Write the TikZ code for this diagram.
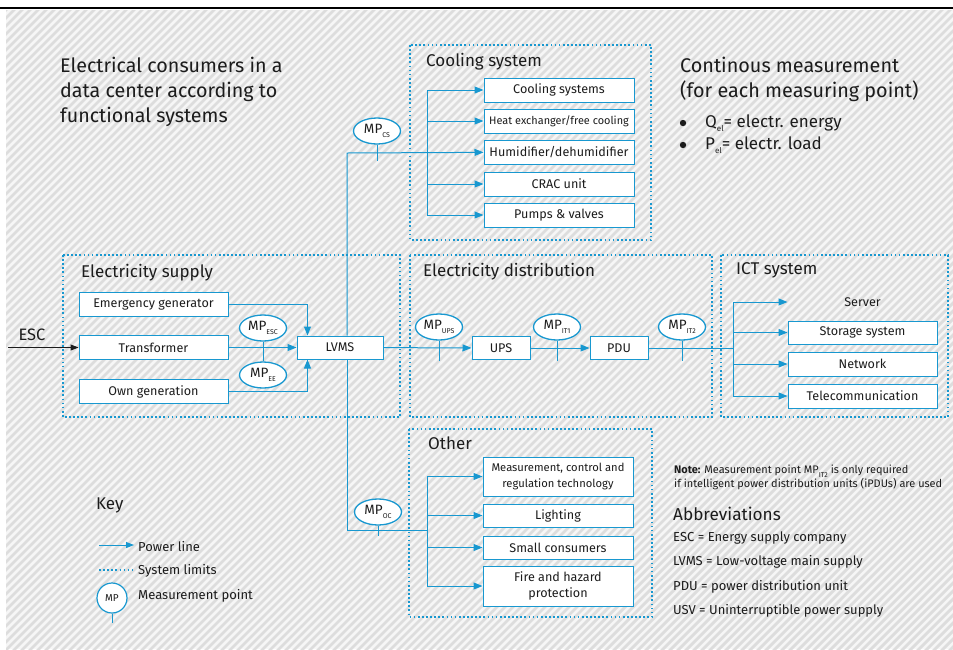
\documentclass[tikz,border=0pt]{standalone}
\usepackage{fontspec}
\setmainfont{Fira Sans}
\definecolor{lineblue}{RGB}{24, 152, 208}
\definecolor{hatchgrey}{RGB}{221, 221, 221}
\definecolor{paper}{RGB}{246, 246, 246}
\definecolor{inkgrey}{RGB}{28, 28, 28}
\usetikzlibrary{shapes.geometric, arrows.meta, positioning, calc}
\newcommand{\mplabel}[1]{MP\raisebox{-3.5pt}{\fontsize{7}{8}\selectfont #1}}
\tikzset{
  unitbox/.style={rectangle, draw=lineblue, fill=white, line width=1pt, minimum width=150pt, minimum height=24pt, inner sep=1pt, align=center, text=inkgrey, font=\fontsize{12.6}{15}\selectfont},
  sysframe/.style={color=lineblue, line width=1.7pt, dash pattern=on 1.7pt off 2.4pt},
  mpnode/.style={ellipse, draw=lineblue, fill=white, line width=1.3pt, minimum width=47pt, minimum height=26pt, inner sep=0pt, text=inkgrey, font=\fontsize{13.5}{14}\selectfont},
  powerline/.style={draw=lineblue, line width=1pt, -{Triangle[length=9pt, width=7pt]}},
  plainline/.style={draw=lineblue, line width=1pt},
  grouptitle/.style={anchor=west, inner sep=0pt, text=inkgrey, font=\fontsize{17}{19}\selectfont},
  infotext/.style={anchor=west, inner sep=0pt, text=inkgrey, font=\fontsize{13}{15}\selectfont},
}

\begin{document}
\begin{tikzpicture}[x=1pt, y=-1pt]
\useasboundingbox (0,0) rectangle (953,649);
% hatched paper
\fill[paper] (6,10) rectangle (953,649);
\begin{scope}
  \clip (6,10) rectangle (953,649);
  \foreach \i in {-660,-652,...,960}
    \draw[hatchgrey, line width=2.8pt] (\i,652) -- (\i+652,0);
\end{scope}
\draw[black, line width=1.6pt] (0,8) -- (953,8);

% headings
\node[anchor=north west, align=left, inner sep=0pt, text=inkgrey, font=\fontsize{19.7}{25}\selectfont] (title) at (60,57)
  {Electrical consumers in a\\data center according to\\functional systems};
\node[anchor=north west, align=left, inner sep=0pt, text=inkgrey, font=\fontsize{19.8}{25}\selectfont] (contmeas) at (680,57)
  {Continous measurement\\(for each measuring point)};
\fill[inkgrey] (683,123) circle (3.2pt);
\fill[inkgrey] (683,145) circle (3.2pt);
\node[infotext, font=\fontsize{17}{19}\selectfont] (qel) at (705,123) {Q\raisebox{-3.5pt}{\fontsize{8}{9}\selectfont el}= electr. energy};
\node[infotext, font=\fontsize{17}{19}\selectfont] (pel) at (705,145) {P\raisebox{-3.5pt}{\fontsize{8}{9}\selectfont el}= electr. load};

% system limits
\draw[sysframe] (410,45) rectangle (651,240);
\draw[sysframe] (63,255) rectangle (400,417);
\draw[sysframe] (410,255) rectangle (712,417);
\draw[sysframe] (721,255) rectangle (948,417);
\draw[sysframe] (409,429) rectangle (652,617);
\node[grouptitle] (cooltitle) at (426,62) {Cooling system};
\node[grouptitle] (supplytitle) at (81,273) {Electricity supply};
\node[grouptitle] (distrtitle) at (423,272) {Electricity distribution};
\node[grouptitle] (icttitle) at (736,270) {ICT system};
\node[grouptitle] (othertitle) at (428,443) {Other};

% cooling system
\node[unitbox] (cool1) at (559,90) {Cooling systems};
\node[unitbox, font=\fontsize{10.9}{12}\selectfont] (cool2) at (559,121) {Heat exchanger/free cooling};
\node[unitbox] (cool3) at (559,152) {Humidifier/dehumidifier};
\node[unitbox] (cool4) at (559,184) {CRAC unit};
\node[unitbox] (cool5) at (559,215) {Pumps \& valves};
\coordinate (coolbr) at (427,90);
\draw[plainline] (coolbr) -- (coolbr |- cool5);
\foreach \b in {cool1,cool2,cool4,cool5}
  \draw[powerline] (coolbr |- \b) -- (\b);

% electricity supply
\node[unitbox, minimum width=149pt] (emgen) at (153.5,304) {Emergency generator};
\node[unitbox, minimum width=149pt] (trafo) at (153.5,347.5) {Transformer};
\node[unitbox, minimum width=149pt] (owngen) at (153.5,391.5) {Own generation};
\node[unitbox, minimum width=86pt, minimum height=23pt] (lvms) at (340,347.5) {LVMS};
\node[inner sep=0pt, text=inkgrey, font=\fontsize{16.5}{18}\selectfont] (esc) at (32,335) {ESC};
\coordinate (escin) at (8,347.5);
\draw[inkgrey, line width=1pt, -{Triangle[length=8pt, width=6pt]}] (escin) -- (trafo);
\draw[powerline] (emgen) -| ([xshift=11pt]lvms.north west);
\draw[powerline] (trafo) -- (lvms);
\draw[powerline] (owngen) -| ([xshift=11pt]lvms.south west);
\node[mpnode] (mpesc) at (263,328) {\mplabel{ESC}};
\node[mpnode] (mpee) at (263,375) {\mplabel{EE}};
\draw[plainline] (mpesc) -- (mpee);

% main riser
\coordinate (riser) at (347,153);
\coordinate (otherbr) at (427,530);
\draw[powerline] (riser |- lvms.north) -- (riser) -- (cool3);
\draw[plainline] (riser |- lvms.south) -- (riser |- otherbr) -- (otherbr);
\node[mpnode] (mpcs) at (377,131) {\mplabel{CS}};
\coordinate (mpcsend) at (377,161);
\draw[plainline] (mpcs) -- (mpcsend);

% electricity distribution
\node[unitbox, minimum width=58pt, minimum height=23pt] (ups) at (501,348) {UPS};
\node[unitbox, minimum width=58pt, minimum height=23pt] (pdu) at (619,348) {PDU};
\coordinate (ictbr) at (733,348);
\draw[powerline] (lvms) -- (ups);
\draw[powerline] (ups) -- (pdu);
\draw[plainline] (pdu) -- (ictbr);
\node[mpnode] (mpups) at (439,327) {\mplabel{UPS}};
\node[mpnode] (mpitone) at (557,327) {\mplabel{IT1}};
\node[mpnode] (mpittwo) at (682,327) {\mplabel{IT2}};
\foreach \m in {mpups,mpitone,mpittwo}
  \draw[plainline] (\m) -- ([yshift=-20pt]\m.south);

% ICT system
\node[unitbox, draw=none, fill=none, minimum width=149pt] (server) at (862.5,302) {Server};
\node[unitbox, minimum width=149pt, minimum height=23pt] (storage) at (862.5,332.5) {Storage system};
\node[unitbox, minimum width=149pt] (network) at (862.5,364) {Network};
\node[unitbox, minimum width=149pt] (telecom) at (862.5,396) {Telecommunication};
\coordinate (ictbrtop) at (733,302);
\draw[plainline] (ictbrtop) -- (ictbrtop |- telecom);
\foreach \b in {server,storage,network,telecom}
  \draw[powerline] (ictbrtop |- \b) -- (\b);

% other
\node[unitbox, minimum height=39pt, font=\fontsize{11.2}{16}\selectfont] (other1) at (558,476.5) {Measurement, control and\\regulation technology};
\node[unitbox, minimum height=23pt] (other2) at (558,515.5) {Lighting};
\node[unitbox, minimum height=23pt] (other3) at (558,547.5) {Small consumers};
\node[unitbox, minimum height=40pt, font=\fontsize{12.6}{16}\selectfont] (other4) at (558,586) {Fire and hazard\\protection};
\draw[plainline] (otherbr |- other1) -- (otherbr |- other4);
\foreach \b in {other1,other2,other3,other4}
  \draw[powerline] (otherbr |- \b) -- (\b);
\node[mpnode] (mpoc) at (378,512) {\mplabel{OC}};
\draw[plainline] (mpoc) -- ([yshift=-10pt]mpoc.south);

% key
\node[grouptitle] (keytitle) at (96,505) {Key};
\coordinate (keyarrowa) at (99,545);
\coordinate (keyarrowb) at (134,545);
\draw[powerline, -{Triangle[length=8pt, width=6pt]}] (keyarrowa) -- (keyarrowb);
\node[infotext] (keypower) at (138,546) {Power line};
\coordinate (keydota) at (99,570);
\coordinate (keydotb) at (133,570);
\draw[sysframe, line width=1.3pt] (keydota) -- (keydotb);
\node[infotext] (keylimits) at (138,571) {System limits};
\node[circle, draw=lineblue, fill=white, line width=1.2pt, minimum size=30pt, inner sep=0pt, text=inkgrey, font=\fontsize{10}{11}\selectfont] (keymp) at (112,598) {MP};
\draw[plainline] (keymp) -- ([yshift=-9pt]keymp.south);
\node[infotext] (keympt) at (138,596) {Measurement point};

% notes and abbreviations
\node[anchor=north west, align=left, inner sep=0pt, text=inkgrey, font=\fontsize{10.95}{14}\selectfont] (note) at (674,465)
  {\textbf{Note:} Measurement point \mplabel{IT2} is only required\\if intelligent power distribution units (iPDUs) are used};
\node[infotext, font=\fontsize{17.2}{20}\selectfont] (abbrtitle) at (673,514) {Abbreviations};
\node[infotext] (abesc) at (673,538) {ESC = Energy supply company};
\node[infotext] (ablvms) at (673,562) {LVMS = Low-voltage main supply};
\node[infotext] (abpdu) at (673,587) {PDU = power distribution unit};
\node[infotext] (abusv) at (673,611) {USV = Uninterruptible power supply};
\end{tikzpicture}
\end{document}
